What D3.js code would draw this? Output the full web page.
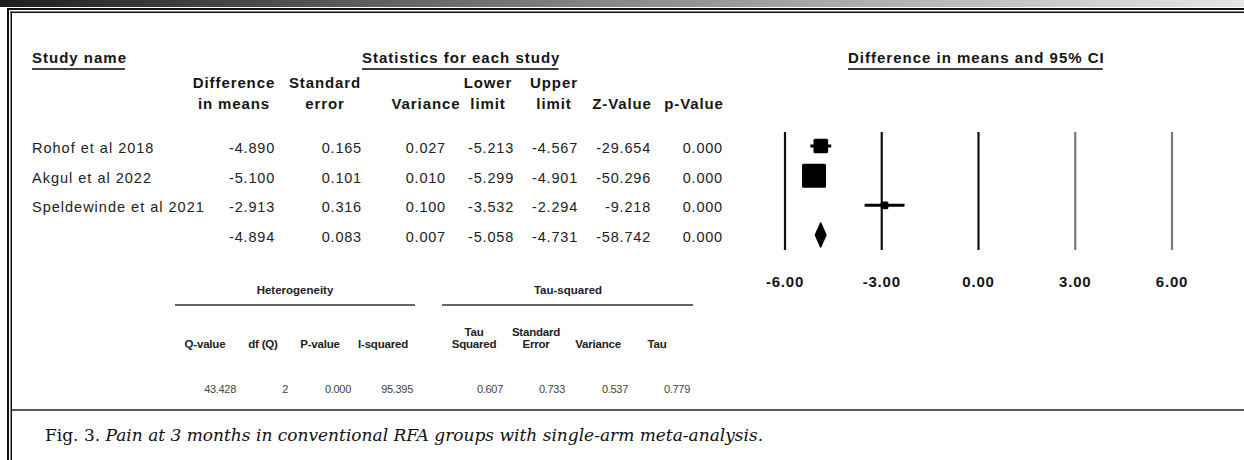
<html>
<head>
<script src="https://d3js.org/d3.v7.min.js"></script>
<style>
  body { margin: 0; background: #fff; }
  svg { display: block; }
</style>
</head>
<body>
<svg id="svg" width="1244" height="460"></svg>
<script>
// study rows (last row = pooled estimate, no name)
const studyNames = ["Rohof et al 2018", "Akgul et al 2022", "Speldewinde et al 2021", ""];
const diffMeans = [-4.890, -5.100, -2.913, -4.894];
const stdErrors = [0.165, 0.101, 0.316, 0.083];
const variances = [0.027, 0.010, 0.100, 0.007];
const lowerLimits = [-5.213, -5.299, -3.532, -5.058];
const upperLimits = [-4.567, -4.901, -2.294, -4.731];
const zValues = [-29.654, -50.296, -9.218, -58.742];
const pValues = [0.000, 0.000, 0.000, 0.000];
const axisTicks = [-6, -3, 0, 3, 6];

// heterogeneity / tau-squared block
const hetHeaders = [["", "Q-value"], ["", "df (Q)"], ["", "P-value"], ["", "I-squared"]];
const hetValues = [43.428, 2, 0.000, 95.395];
const tauHeaders = [["Tau", "Squared"], ["Standard", "Error"], ["", "Variance"], ["", "Tau"]];
const tauValues = [0.607, 0.733, 0.537, 0.779];

const svg = d3.select("#svg");
const loc = d3.formatLocale({ decimal: ".", thousands: ",", grouping: [3], currency: ["", ""], minus: "-" });
const f3 = loc.format(".3f");

// ---- frame ----
const defs = svg.append("defs");
const grad = defs.append("linearGradient").attr("id", "topbar");
grad.append("stop").attr("offset", "0%").attr("stop-color", "#1e1e1e");
grad.append("stop").attr("offset", "50%").attr("stop-color", "#8a8a8a");
grad.append("stop").attr("offset", "100%").attr("stop-color", "#e6e6e6");
svg.append("rect").attr("x", 0).attr("y", 0).attr("width", 1244).attr("height", 7).attr("fill", "url(#topbar)");
svg.append("rect").attr("x", 7).attr("y", 8).attr("width", 1237).attr("height", 2).attr("fill", "#111");
svg.append("rect").attr("x", 10.5).attr("y", 11.5).attr("width", 1234).attr("height", 1.5).attr("fill", "#111");
svg.append("rect").attr("x", 7).attr("y", 8).attr("width", 2).attr("height", 452).attr("fill", "#111");
svg.append("rect").attr("x", 10.5).attr("y", 11.5).attr("width", 1.5).attr("height", 449).attr("fill", "#111");
svg.append("line").attr("x1", 12).attr("x2", 1244).attr("y1", 410).attr("y2", 410)
  .attr("stroke", "#222").attr("stroke-width", 1.5);

const font = "Liberation Sans, Arial, sans-serif";

// ---- section titles ----
function title(txt, x, y) {
  const t = svg.append("text").attr("x", x).attr("y", y)
    .attr("font-family", font).attr("font-size", 15).attr("font-weight", "bold")
    .attr("letter-spacing", 1).attr("fill", "#151515").text(txt);
  const b = t.node().getBBox();
  svg.append("line").attr("x1", b.x).attr("x2", b.x + b.width - 2).attr("y1", 69).attr("y2", 69)
    .attr("stroke", "#444").attr("stroke-width", 2);
}
title("Study name", 32, 63);
title("Statistics for each study", 362, 63);
title("Difference in means and 95% CI", 848, 63);

// ---- table ----
const rowY = d3.scaleLinear().domain([0, studyNames.length - 1]).range([153, 242]);
const cols = [
  { head: ["Difference", "in means"], c: 234, r: 275, vals: diffMeans },
  { head: ["Standard", "error"], c: 325, r: 362, vals: stdErrors },
  { head: ["", "Variance"], c: 426, r: 446, vals: variances },
  { head: ["Lower", "limit"], c: 488, r: 514, vals: lowerLimits },
  { head: ["Upper", "limit"], c: 554, r: 578, vals: upperLimits },
  { head: ["", "Z-Value"], c: 622, r: 651, vals: zValues },
  { head: ["", "p-Value"], c: 694, r: 723, vals: pValues }
];
const table = svg.append("g").attr("font-family", font);
cols.forEach(col => {
  col.head.forEach((h, i) => {
    table.append("text").attr("x", col.c).attr("y", 88 + i * 21)
      .attr("text-anchor", "middle").attr("font-size", 15).attr("font-weight", "bold")
      .attr("letter-spacing", 0.9).attr("fill", "#151515").text(h);
  });
  table.selectAll(null).data(col.vals).join("text")
    .attr("x", col.r).attr("y", (d, i) => rowY(i))
    .attr("text-anchor", "end").attr("font-size", 14.5).attr("letter-spacing", 0.8)
    .attr("fill", "#222").text(d => f3(d));
});
table.selectAll("text.name").data(studyNames).join("text").attr("class", "name")
  .attr("x", 32).attr("y", (d, i) => rowY(i))
  .attr("font-size", 14.5).attr("letter-spacing", 1.0).attr("fill", "#222").text(d => d);

// ---- forest plot ----
const x = d3.scaleLinear().domain([-6, 6]).range([785, 1172]);
const plot = svg.append("g");
plot.selectAll("line.ref").data(axisTicks).join("line").attr("class", "ref")
  .attr("x1", d => x(d)).attr("x2", d => x(d)).attr("y1", 132).attr("y2", 250)
  .attr("stroke", d => d <= 0 ? "#111" : "#777").attr("stroke-width", 2.2);
plot.selectAll("text.tick").data(axisTicks).join("text").attr("class", "tick")
  .attr("x", d => x(d)).attr("y", 287).attr("text-anchor", "middle")
  .attr("font-family", font).attr("font-size", 15).attr("font-weight", "bold")
  .attr("letter-spacing", 0.8).attr("fill", "#151515").text(d => loc.format(".2f")(d));

const nStudies = studyNames.length - 1;
const studies = d3.range(nStudies).map(i => ({ i, m: diffMeans[i], lo: lowerLimits[i], hi: upperLimits[i], w: 1 / variances[i] }));
const size = d3.scaleSqrt().domain([0, d3.max(studies, d => d.w)]).range([0, 24]);
const cy = i => rowY(i) - 7;

plot.selectAll("line.ci").data(studies).join("line").attr("class", "ci")
  .attr("x1", d => x(d.lo)).attr("x2", d => x(d.hi)).attr("y1", d => cy(d.i)).attr("y2", d => cy(d.i))
  .attr("stroke", "#000").attr("stroke-width", 3);
plot.selectAll("rect.box").data(studies).join("rect").attr("class", "box")
  .attr("x", d => x(d.m) - size(d.w) / 2).attr("y", d => cy(d.i) - size(d.w) / 2)
  .attr("width", d => size(d.w)).attr("height", d => size(d.w)).attr("rx", 1.5)
  .attr("fill", "#000");

// pooled diamond
const p = nStudies;
const pm = diffMeans[p], half = (x(upperLimits[p]) - x(lowerLimits[p])) / 2;
plot.append("path")
  .attr("d", `M${x(pm) - half},${cy(p)} L${x(pm)},${cy(p) - 12} L${x(pm) + half},${cy(p)} L${x(pm)},${cy(p) + 12} Z`)
  .attr("fill", "#000").attr("stroke", "#000").attr("stroke-width", 1.5).attr("stroke-linejoin", "round");

// ---- heterogeneity block ----
const small = svg.append("g").attr("font-family", font);
function block(name, cx, x1, x2, headers, centers, rights, vals, fmts) {
  small.append("text").attr("x", cx).attr("y", 294).attr("text-anchor", "middle")
    .attr("font-size", 11.5).attr("font-weight", "bold").attr("fill", "#222").text(name);
  small.append("line").attr("x1", x1).attr("x2", x2).attr("y1", 305).attr("y2", 305)
    .attr("stroke", "#666").attr("stroke-width", 2);
  headers.forEach((h, j) => {
    h.forEach((s, k) => {
      small.append("text").attr("x", centers[j]).attr("y", 336 + k * 12).attr("text-anchor", "middle")
        .attr("font-size", 11.5).attr("font-weight", "bold").attr("letter-spacing", -0.2)
        .attr("fill", "#222").text(s);
    });
  });
  small.selectAll(null).data(vals).join("text")
    .attr("x", (d, j) => rights[j]).attr("y", 393).attr("text-anchor", "end")
    .attr("font-size", 11).attr("letter-spacing", -0.3).attr("fill", "#444")
    .text((d, j) => fmts[j](d));
}
block("Heterogeneity", 295, 175, 415, hetHeaders, [205, 263, 320, 383], [236, 288, 351, 413],
  hetValues, [f3, d3.format("d"), f3, f3]);
block("Tau-squared", 568, 442, 693, tauHeaders, [474, 536, 598, 657], [503, 565, 628, 690],
  tauValues, [f3, f3, f3, f3]);

// ---- caption ----
const cap = svg.append("text").attr("x", 45).attr("y", 441)
  .attr("font-family", "DejaVu Serif, serif").attr("font-size", 17).attr("fill", "#111");
cap.append("tspan").text("Fig. 3. ");
cap.append("tspan").attr("font-style", "italic").text("Pain at 3 months in conventional RFA groups with single-arm meta-analysis.");
</script>
</body>
</html>
